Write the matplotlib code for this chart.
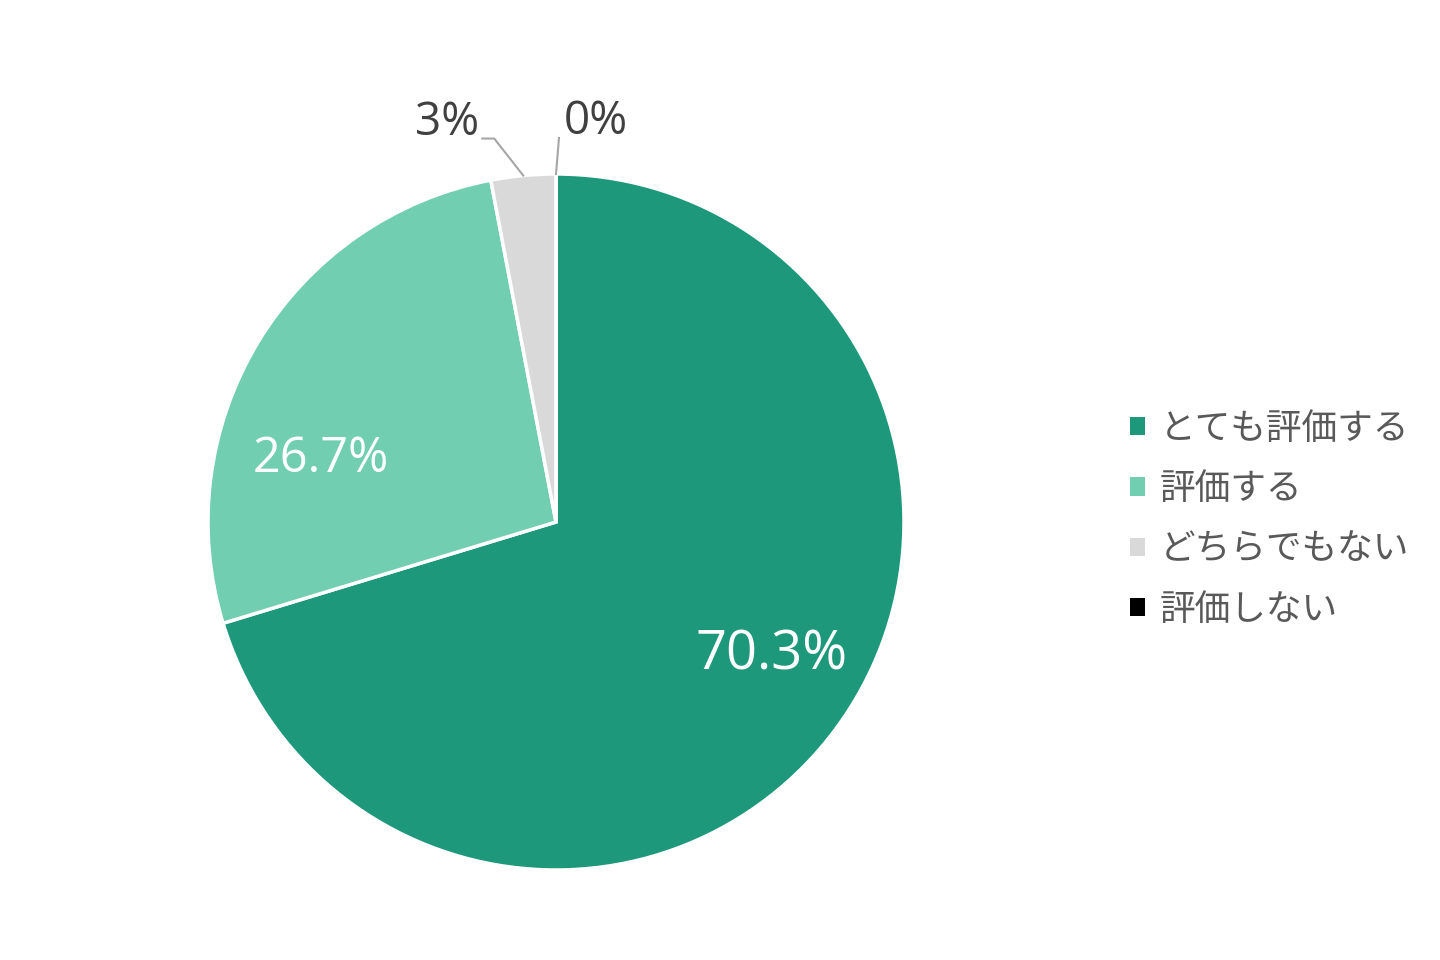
import numpy as np
import matplotlib
matplotlib.use("Agg")
import matplotlib.pyplot as plt

plt.rcParams['font.family'] = ['Noto Sans CJK JP', 'DejaVu Sans']

# ── Data ────────────────────────────────────────────────────────────────────
categories = ["とても評価する", "評価する", "どちらでもない", "評価しない"]
values = [70.3, 26.7, 3.0, 0.0]
pct_labels = ["70.3%", "26.7%", "3%", "0%"]
colors = ["#1E987A", "#71CEB0", "#D9D9D9", "#000000"]

# ── Figure (axes in pixel units) ─────────────────────────────────────────────
fig = plt.figure(figsize=(14.4, 9.6), dpi=100)
ax = fig.add_axes([0, 0, 1, 1])
ax.set_aspect("equal")
ax.axis("off")

cx, cy, r = 556, 438, 348
wedges, _ = ax.pie(values, colors=colors, startangle=90, counterclock=False,
                   center=(cx, cy), radius=r,
                   wedgeprops=dict(edgecolor="white", linewidth=2.5))
ax.set_xlim(0, 1440)
ax.set_ylim(0, 960)

# inside labels (placement as in the original, not exactly mid-angle)
inside_pos = [(-31.7, 0.727, 39), (165.0, 0.70, 35)]   # (angle deg, radius fraction, size)
for (a, f, fs), lab in zip(inside_pos, pct_labels[:2]):
    ang = np.deg2rad(a)
    ax.text(cx + f * r * np.cos(ang), cy + f * r * np.sin(ang), lab,
            ha="center", va="center", fontsize=fs, color="white",
            family=["Open Sans", "DejaVu Sans"])

# outside labels with leader lines
w = wedges[2]
ang = np.deg2rad((w.theta1 + w.theta2) / 2)
px, py = cx + r * np.cos(ang), cy + r * np.sin(ang)
ax.plot([px, px - 29, px - 41], [py, py + 37, py + 37], color="#A6A6A6", lw=1.5)
ax.text(px - 44, py + 53, pct_labels[2], ha="right", va="center", fontsize=33,
        color="#404040", family=["Open Sans", "DejaVu Sans"])

w = wedges[3]
ang = np.deg2rad((w.theta1 + w.theta2) / 2)
px, py = cx + r * np.cos(ang), cy + r * np.sin(ang)
ax.plot([px, px + 3], [py, py + 36], color="#A6A6A6", lw=1.5)
ax.text(px + 8, py + 52, pct_labels[3], ha="left", va="center", fontsize=33,
        color="#404040", family=["Open Sans", "DejaVu Sans"])

leg = ax.legend(wedges, categories, loc="center left",
                bbox_to_anchor=(0.785, 0.459), bbox_transform=fig.transFigure,
                frameon=False, fontsize=25.7, handlelength=0.42, handleheight=0.42,
                handletextpad=0.4, labelspacing=0.68, borderpad=0, borderaxespad=0)
for t in leg.get_texts():
    t.set_color("#595959")
for h in leg.legend_handles:
    h.set_edgecolor("none")

fig.savefig("out.png", dpi=100)
